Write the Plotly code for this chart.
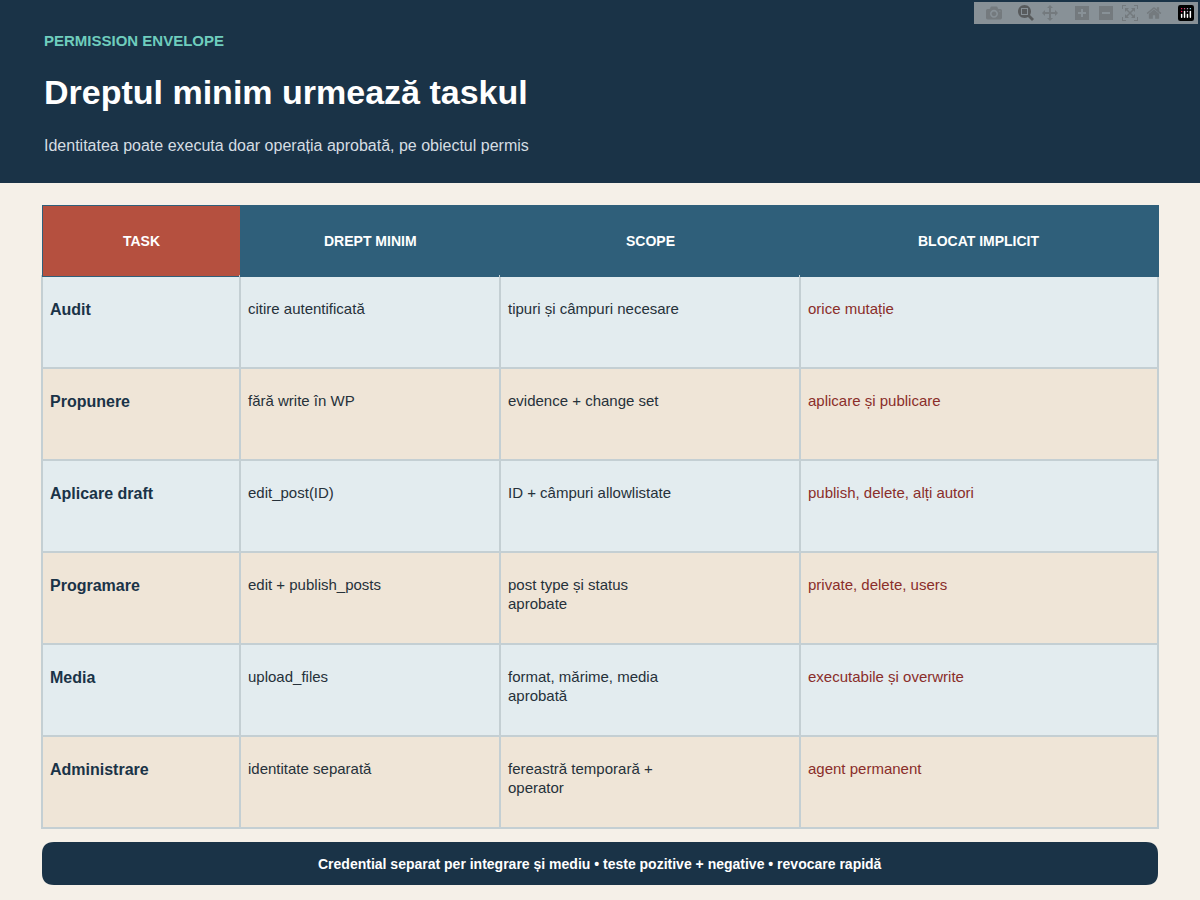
import plotly.graph_objects as go

headers = ["TASK", "DREPT MINIM", "SCOPE", "BLOCAT IMPLICIT"]
tasks = ["Audit", "Propunere", "Aplicare draft", "Programare", "Media", "Administrare"]
drept = ["citire autentificată", "fără write în WP", "edit_post(ID)", "edit + publish_posts",
         "upload_files", "identitate separată"]
scope = ["tipuri și câmpuri necesare", "evidence + change set", "ID + câmpuri allowlistate",
         "post type și status<br>aprobate", "format, mărime, media<br>aprobată",
         "fereastră temporară +<br>operator"]
blocat = ["orice mutație", "aplicare și publicare", "publish, delete, alți autori",
          "private, delete, users", "executabile și overwrite", "agent permanent"]

W, H = 1200, 900
bg = "#f5f0e8"
dark = "#1a3347"
FONT = "Liberation Sans, Arial, sans-serif"
rowc = ["#e3ecef" if i % 2 == 0 else "#efe5d7" for i in range(len(tasks))]
colw = [198, 260, 300, 358]

def pad(lst, bold=False):
    return ["<span style='font-size:11px'> </span><br>" + (("<b>%s</b>" % s) if bold else s) for s in lst]

fig = go.Figure()
fig.add_trace(go.Table(
    domain=dict(x=[42/W, 1158/W], y=[1-830/H, 1-205/H]),
    columnwidth=colw,
    header=dict(values=[""] * 4,
                fill_color=["#b5503f", "#2f5f7a", "#2f5f7a", "#2f5f7a"],
                line_color="#2f5f7a", height=71),
    cells=dict(values=[pad(tasks, True), pad(drept), pad(scope), pad(blocat)],
               fill_color=[rowc]*4, line=dict(color="#c4cfd3", width=1.5),
               height=92, align="left",
               font=dict(color=[[dark]*6, ["#26313a"]*6, ["#26313a"]*6, ["#8a2e2a"]*6],
                         size=[16, 15, 15, 15], family=FONT)),
))

fig.add_shape(type="rect", xref="paper", yref="paper", x0=0, x1=1, y0=1-183/H, y1=1,
              fillcolor=dark, line_width=0, layer="below")
r = 12
x0, x1, y0, y1 = 42, 1158, 842, 885
path = (f"M {x0+r},{y0} L {x1-r},{y0} Q {x1},{y0} {x1},{y0+r} L {x1},{y1-r} Q {x1},{y1} {x1-r},{y1} "
        f"L {x0+r},{y1} Q {x0},{y1} {x0},{y1-r} L {x0},{y0+r} Q {x0},{y0} {x0+r},{y0} Z")
fig.add_shape(type="path", xref="x", yref="y", path=path, fillcolor=dark, line_width=0)

def ann(text, x, y, size, color, bold=False, xanchor="left"):
    fig.add_annotation(text=("<b>%s</b>" % text) if bold else text, x=x, y=y, xref="x", yref="y",
                       xanchor=xanchor, yanchor="middle", showarrow=False,
                       font=dict(size=size, color=color, family=FONT))

ann("PERMISSION ENVELOPE", 42, 40, 15, "#6fcdbd", True)
ann("Dreptul minim urmează taskul", 42, 92, 34, "white", True)
ann("Identitatea poate executa doar operația aprobată, pe obiectul permis", 42, 145, 16, "#d5dde3")
ann("Credential separat per integrare și mediu • teste pozitive + negative • revocare rapidă",
    600, 864, 14, "white", True, "center")

# header labels centred in header cells
tot = sum(colw)
left = 42
for h, w in zip(headers, colw):
    pw = w / tot * (1158 - 42)
    ann(h, left + pw / 2, 241, 14, "white", True, "center")
    left += pw

fig.update_layout(width=W, height=H, margin=dict(l=0, r=0, t=0, b=0),
                  paper_bgcolor=bg, plot_bgcolor=bg, showlegend=False,
                  xaxis=dict(range=[0, W], visible=False, domain=[0, 1]),
                  yaxis=dict(range=[H, 0], visible=False, domain=[0, 1]))
fig.write_html("out.html", post_script="document.body.style.margin='0';")
